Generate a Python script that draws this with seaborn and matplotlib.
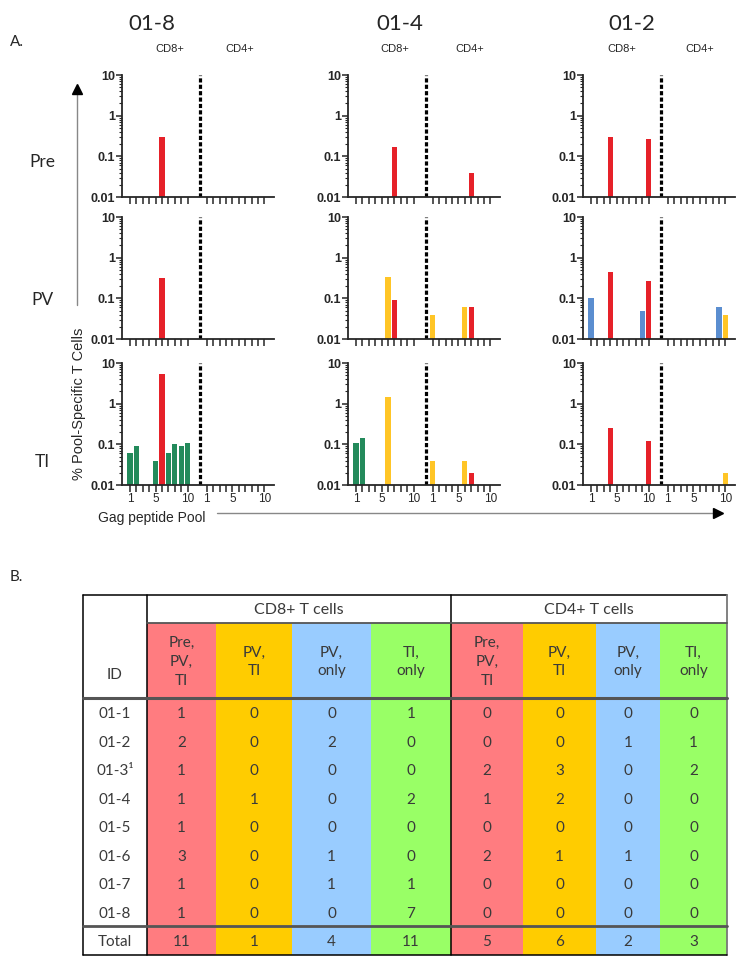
import numpy as np
import pandas as pd
import matplotlib.pyplot as plt
import seaborn as sns
from matplotlib.patches import Rectangle
from matplotlib.ticker import LogLocator, NullFormatter

sns.set_style("ticks")
plt.rcParams["font.family"] = ["Liberation Sans", "DejaVu Sans"]

# ---- Panel A data: one entry per bar ----
subjects = ["01-8", "01-4", "01-2"]
timepoints = ["Pre", "PV", "TI"]
groups = ["Pre, PV, TI", "PV, TI", "PV only", "TI only"]
group_colors = ["#E62129", "#FFC526", "#5B8ED0", "#238A5B"]

bar_subject = (["01-8"] * 10 + ["01-4"] * 13 + ["01-2"] * 11)
bar_time = (["Pre", "PV", "TI", "TI", "TI", "TI", "TI", "TI", "TI", "TI"]
            + ["Pre", "Pre", "PV", "PV", "PV", "PV", "PV", "TI", "TI", "TI", "TI", "TI", "TI"]
            + ["Pre", "Pre", "PV", "PV", "PV", "PV", "PV", "PV", "TI", "TI", "TI"])
bar_subset = (["CD8"] * 10
              + ["CD8", "CD4", "CD8", "CD8", "CD4", "CD4", "CD4", "CD8", "CD8", "CD8", "CD4", "CD4", "CD4"]
              + ["CD8", "CD8", "CD8", "CD8", "CD8", "CD8", "CD4", "CD4", "CD8", "CD8", "CD4"])
bar_pool = ([6, 6, 1, 2, 5, 6, 7, 8, 9, 10]
            + [7, 7, 6, 7, 1, 6, 7, 1, 2, 6, 1, 6, 7]
            + [4, 10, 1, 4, 9, 10, 9, 10, 4, 10, 10])
bar_pct = ([0.30, 0.32, 0.06, 0.09, 0.04, 5.5, 0.06, 0.10, 0.09, 0.11]
           + [0.17, 0.04, 0.33, 0.09, 0.04, 0.06, 0.06, 0.11, 0.14, 1.5, 0.04, 0.04, 0.02]
           + [0.30, 0.26, 0.10, 0.45, 0.05, 0.26, 0.06, 0.04, 0.25, 0.12, 0.02])
bar_group = (["Pre, PV, TI", "Pre, PV, TI", "TI only", "TI only", "TI only", "Pre, PV, TI",
              "TI only", "TI only", "TI only", "TI only"]
             + ["Pre, PV, TI", "Pre, PV, TI", "PV, TI", "Pre, PV, TI", "PV, TI", "PV, TI",
                "Pre, PV, TI", "TI only", "TI only", "PV, TI", "PV, TI", "PV, TI", "Pre, PV, TI"]
             + ["Pre, PV, TI", "Pre, PV, TI", "PV only", "Pre, PV, TI", "PV only", "Pre, PV, TI",
                "PV only", "PV, TI", "Pre, PV, TI", "Pre, PV, TI", "PV, TI"])

# ---- Panel B data ----
table_ids = ["01-1", "01-2", "01-3\u00b9", "01-4", "01-5", "01-6", "01-7", "01-8"]
table_heads = ["Pre,\nPV,\nTI", "PV,\nTI", "PV,\nonly", "TI,\nonly"] * 2
cd8_pre_pv_ti = [1, 2, 1, 1, 1, 3, 1, 1]
cd8_pv_ti = [0, 0, 0, 1, 0, 0, 0, 0]
cd8_pv_only = [0, 2, 0, 0, 0, 1, 1, 0]
cd8_ti_only = [1, 0, 0, 2, 0, 0, 1, 7]
cd4_pre_pv_ti = [0, 0, 2, 1, 0, 2, 0, 0]
cd4_pv_ti = [0, 0, 3, 2, 0, 1, 0, 0]
cd4_pv_only = [0, 1, 0, 0, 0, 1, 0, 0]
cd4_ti_only = [0, 1, 2, 0, 0, 0, 0, 0]
table_fill = ["#FF7C80", "#FFCC00", "#99CCFF", "#99FF66"] * 2

df = pd.DataFrame({"subject": bar_subject, "time": bar_time, "subset": bar_subset,
                   "pool": bar_pool, "pct": bar_pct, "group": bar_group})
# CD4 pools sit to the right of the dashed divider
df["x"] = np.where(df["subset"] == "CD4", df["pool"] + 12, df["pool"])
palette = dict(zip(groups, group_colors))

W, H = 741, 960
fig = plt.figure(figsize=(W / 100, H / 100), dpi=100)


def px_axes(left, top, width, height):
    return fig.add_axes([left / W, 1 - (top + height) / H, width / W, height / H])


# overlay for text, arrows and the table (pixel coordinates)
ov = fig.add_axes([0, 0, 1, 1])
ov.set_xlim(0, W)
ov.set_ylim(H, 0)
ov.axis("off")

calibri = ["Lato", "DejaVu Sans"]

col_left = [122, 348, 583]
row_top = [75, 217, 363]
tick_pos = list(range(1, 11)) + list(range(13, 23))
tick_lab = ["1" if p in (1, 13) else "5" if p in (5, 17) else "10" if p in (10, 22) else ""
            for p in tick_pos]

for i, subj in enumerate(subjects):
    for j, tp in enumerate(timepoints):
        sub = df[(df["subject"] == subj) & (df["time"] == tp)]
        xs = np.sort(sub["x"].unique())
        step = np.diff(xs).min() if len(xs) > 1 else 1
        ax = px_axes(col_left[i], row_top[j], 152, 122)
        sns.barplot(data=sub, x="x", y="pct", hue="group", palette=palette,
                    native_scale=True, width=0.8 / step, dodge=False, errorbar=None,
                    saturation=1, legend=False, ax=ax, linewidth=0)
        ax.set_yscale("log")
        ax.set_ylim(0.01, 10)
        ax.set_xlim(-0.25, 23.5)
        ax.axvline(12, color="black", lw=2.3, linestyle=(0, (1.3, 0.7)))
        ax.set_yticks([0.01, 0.1, 1, 10])
        ax.set_yticklabels(["0.01", "0.1", "1", "10"], fontsize=9, fontweight="bold")
        ax.yaxis.set_minor_locator(LogLocator(base=10, subs=np.arange(2, 10)))
        ax.yaxis.set_minor_formatter(NullFormatter())
        ax.set_xticks(tick_pos)
        if j == 2:
            ax.set_xticklabels(tick_lab, fontsize=8.5)
        else:
            ax.set_xticklabels([""] * len(tick_pos))
        ax.tick_params(axis="both", which="major", direction="out", length=4, width=1.1, pad=1)
        ax.tick_params(axis="y", which="minor", direction="out", length=2, width=0.8)
        ax.tick_params(axis="x", which="major", length=5)
        for s in ("left", "bottom"):
            ax.spines[s].set_linewidth(1.3)
        sns.despine(ax=ax)
        ax.set_xlabel("")
        ax.set_ylabel("")
        ax.patch.set_alpha(0)

# ---- Panel A annotations ----
ov.text(10, 42, "A.", fontsize=11, family=calibri, va="center")
for x, t in zip([152, 400, 632], subjects):
    ov.text(x, 24, t, fontsize=16, family=calibri, ha="center", va="center")
for x8, x4 in [(170, 240), (395, 470), (622, 700)]:
    ov.text(x8, 49, "CD8+", fontsize=8, ha="center", va="center")
    ov.text(x4, 49, "CD4+", fontsize=8, ha="center", va="center")
for y, t in zip([162, 300, 462], timepoints):
    ov.text(42, y, t, fontsize=12.5, family=calibri, ha="center", va="center")

ov.text(79, 404, "% Pool-Specific T Cells", fontsize=10.5, rotation=90, ha="center", va="center")
ov.plot([77, 77], [305, 92], color="#888888", lw=1)
ov.plot([77], [89], marker="^", ms=7, color="black")
ov.text(98, 518, "Gag peptide Pool", fontsize=10, ha="left", va="center")
ov.plot([217, 716], [513, 513], color="#888888", lw=1)
ov.plot([718], [513], marker=">", ms=7, color="black")

# ---- Panel B table ----
ov.text(10, 577, "B.", fontsize=11, family=calibri, va="center")
col_edges = [147, 216, 292, 371, 451, 523, 596, 660, 727]
t_top, h_bot, sh_bot, d_bot, t_bot = 595, 623, 698, 926, 955
row_h = (d_bot - sh_bot) / len(table_ids)
txt_c = "#3a3a3a"

for k in range(8):
    ov.add_patch(Rectangle((col_edges[k], h_bot), col_edges[k + 1] - col_edges[k],
                           t_bot - h_bot, color=table_fill[k], lw=0))

columns = [cd8_pre_pv_ti, cd8_pv_ti, cd8_pv_only, cd8_ti_only,
           cd4_pre_pv_ti, cd4_pv_ti, cd4_pv_only, cd4_ti_only]

ov.text((col_edges[0] + col_edges[4]) / 2, 610, "CD8+ T cells", fontsize=11.5,
        family=calibri, color=txt_c, ha="center", va="center")
ov.text((col_edges[4] + col_edges[8]) / 2, 610, "CD4+ T cells", fontsize=11.5,
        family=calibri, color=txt_c, ha="center", va="center")
ov.text(115, 675, "ID", fontsize=11, family=calibri, color=txt_c, ha="center", va="center")

for k, (head, vals) in enumerate(zip(table_heads, columns)):
    cx = (col_edges[k] + col_edges[k + 1]) / 2
    ov.text(cx, 662, head, fontsize=11, family=calibri, color=txt_c, ha="center",
            va="center", multialignment="center", linespacing=1.45)
    for r, v in enumerate(vals):
        ov.text(cx, sh_bot + row_h * (r + 0.5) + 2, str(v), fontsize=11, family=calibri,
                color=txt_c, ha="center", va="center")
    ov.text(cx, (d_bot + t_bot) / 2 + 1, str(sum(vals)), fontsize=11, family=calibri,
            color=txt_c, ha="center", va="center")

for r, ident in enumerate(table_ids):
    ov.text(115, sh_bot + row_h * (r + 0.5) + 2, ident, fontsize=11, family=calibri,
            color=txt_c, ha="center", va="center")
ov.text(115, (d_bot + t_bot) / 2 + 1, "Total", fontsize=11, family=calibri,
        color=txt_c, ha="center", va="center")

ov.plot([83, 727], [t_top, t_top], color="black", lw=1.1)
ov.plot([83, 83], [t_top, t_bot], color="black", lw=1.1)
ov.plot([147, 147], [t_top, t_bot], color="black", lw=1.1)
ov.plot([451, 451], [t_top, t_bot], color="black", lw=1.1)
ov.plot([727, 727], [t_top, t_bot], color="#777777", lw=1.3)
ov.plot([147, 727], [h_bot, h_bot], color="#555555", lw=1.3)
ov.plot([83, 727], [sh_bot, sh_bot], color="#555555", lw=2.2)
ov.plot([83, 727], [d_bot, d_bot], color="#555555", lw=2.0)
ov.plot([83, 727], [t_bot, t_bot], color="black", lw=1.1)

fig.savefig("out.png", dpi=100)
